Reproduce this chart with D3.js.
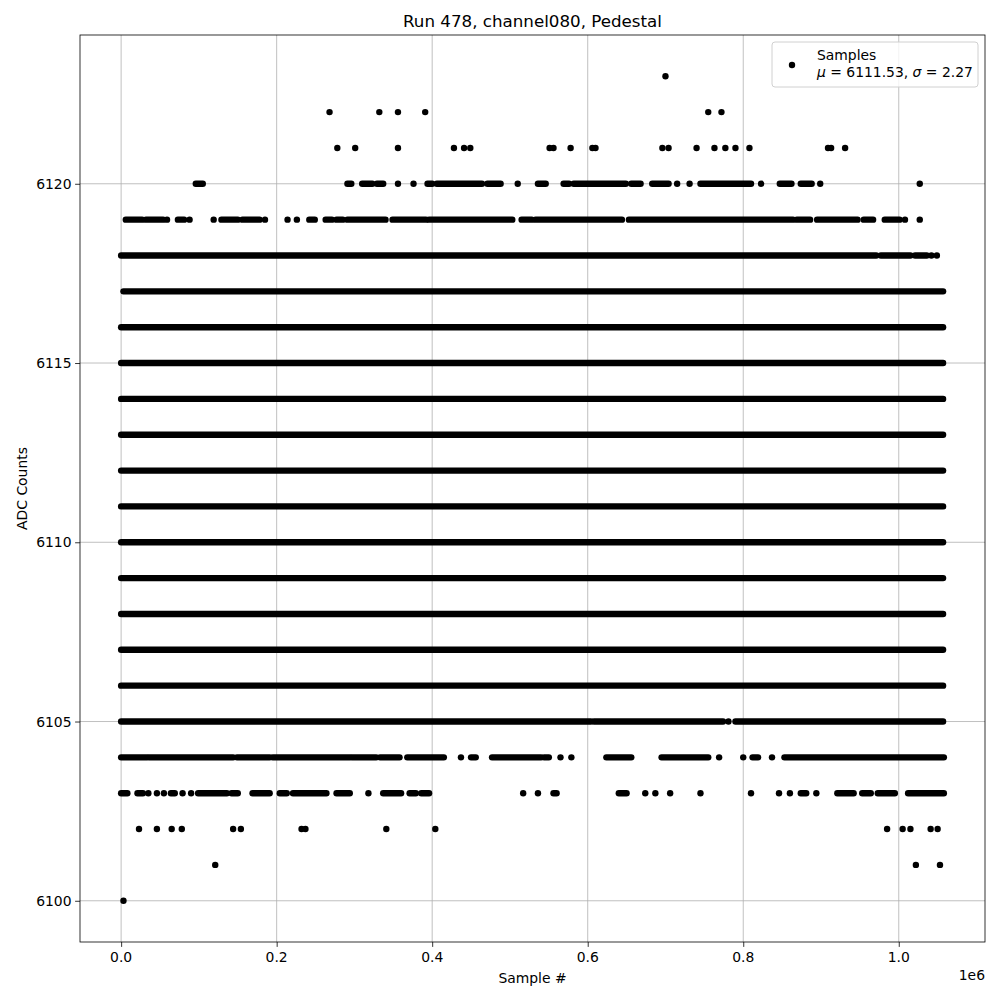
<!DOCTYPE html>
<html>
<head>
<meta charset="utf-8">
<title>Run 478 Pedestal</title>
<script src="https://d3js.org/d3.v7.min.js"></script>
<style>
  body { margin: 0; background: #fff; }
  svg { font-family: "DejaVu Sans", sans-serif; display: block; }
  .grid line { stroke: #b0b0b0; stroke-width: 0.8; }
  .axis path, .axis line { stroke: #000; stroke-width: 0.8; }
  text { font-size: 13.9px; fill: #000; }
</style>
</head>
<body>
<svg id="chart" width="1000" height="1000"></svg>
<script>
// ADC levels seen (counts) and where along the run (in thousands of samples) they occur.
// Dense stretches are kept as [adc, fromK, toK], isolated samples as [adc, atK].
const sampleRuns = [
  [6117, 3, 1057], [6116, 0, 1057], [6115, 0, 1057], [6114, 0, 1057],
  [6113, 0, 1057], [6112, 0, 1057], [6111, 0, 1057], [6110, 0, 1057],
  [6109, 0, 1057], [6108, 0, 1057], [6107, 0, 1057], [6106, 0, 1057],
  [6105, 0, 604], [6105, 608, 774], [6105, 790, 1057],
  [6118, 0, 971], [6118, 977, 1015], [6118, 1021, 1036],
  [6119, 6, 27], [6119, 32, 54], [6119, 73, 81], [6119, 129, 150], [6119, 156, 178],
  [6119, 242, 249], [6119, 263, 271], [6119, 277, 285], [6119, 291, 340],
  [6119, 349, 392], [6119, 396, 503], [6119, 515, 528], [6119, 533, 644],
  [6119, 653, 864], [6119, 869, 886], [6119, 895, 947], [6119, 955, 967], [6119, 982, 1001],
  [6120, 96, 105], [6120, 291, 296], [6120, 310, 323], [6120, 329, 337],
  [6120, 394, 400], [6120, 406, 464], [6120, 471, 488], [6120, 536, 546],
  [6120, 569, 576], [6120, 582, 649], [6120, 656, 668], [6120, 683, 704],
  [6120, 745, 810], [6120, 847, 862], [6120, 874, 888],
  [6104, 0, 33], [6104, 36, 144], [6104, 149, 191], [6104, 195, 294],
  [6104, 297, 328], [6104, 333, 358], [6104, 368, 415], [6104, 450, 456],
  [6104, 477, 540], [6104, 544, 550], [6104, 624, 656], [6104, 695, 755],
  [6104, 812, 819], [6104, 853, 1058],
  [6103, 0, 8], [6103, 21, 28], [6103, 64, 69], [6103, 99, 136], [6103, 142, 150],
  [6103, 169, 191], [6103, 204, 213], [6103, 221, 264], [6103, 277, 294],
  [6103, 337, 360], [6103, 371, 379], [6103, 386, 396], [6103, 556, 560],
  [6103, 640, 650], [6103, 874, 881], [6103, 921, 942], [6103, 953, 964],
  [6103, 973, 995], [6103, 1012, 1058]
];
const samplePoints = [
  [6123, 700],
  [6122, 268], [6122, 332], [6122, 356], [6122, 391], [6122, 755], [6122, 772],
  [6121, 278], [6121, 301], [6121, 356], [6121, 428], [6121, 441], [6121, 449],
  [6121, 551], [6121, 556], [6121, 578], [6121, 606], [6121, 610], [6121, 696],
  [6121, 704], [6121, 740], [6121, 763], [6121, 777], [6121, 790], [6121, 808],
  [6121, 909], [6121, 913], [6121, 931],
  [6120, 356], [6120, 376], [6120, 510], [6120, 715], [6120, 731], [6120, 823],
  [6120, 899], [6120, 1027],
  [6119, 59], [6119, 88], [6119, 119], [6119, 185], [6119, 214], [6119, 226],
  [6119, 1008], [6119, 1027],
  [6118, 1042], [6118, 1049],
  [6105, 781],
  [6104, 437], [6104, 565], [6104, 579], [6104, 769], [6104, 800], [6104, 837],
  [6103, 35], [6103, 46], [6103, 55], [6103, 79], [6103, 90], [6103, 318],
  [6103, 517], [6103, 536], [6103, 674], [6103, 687], [6103, 706], [6103, 745],
  [6103, 810], [6103, 846], [6103, 860], [6103, 894],
  [6102, 23], [6102, 46], [6102, 65], [6102, 78], [6102, 144], [6102, 154],
  [6102, 232], [6102, 237], [6102, 341], [6102, 404], [6102, 985], [6102, 1005],
  [6102, 1015], [6102, 1041], [6102, 1050],
  [6101, 121], [6101, 1022], [6101, 1053],
  [6100, 3]
];
const xTicks = [0, 0.2e6, 0.4e6, 0.6e6, 0.8e6, 1.0e6];
const yTicks = [6100, 6105, 6110, 6115, 6120];
const meanAdc = 6111.53, sigmaAdc = 2.27;

const svg = d3.select('#chart');
const margin = { top: 35, right: 15, bottom: 58, left: 80 };
const W = 1000, H = 1000;

// matplotlib style 5% margins around the data extent
const allX = sampleRuns.flatMap(r => [r[1], r[2]]).concat(samplePoints.map(p => p[1])).map(k => k * 1000);
const allY = sampleRuns.map(r => r[0]).concat(samplePoints.map(p => p[0]));
const [x0, x1] = d3.extent(allX), [y0, y1] = d3.extent(allY);
const padX = (x1 - x0) * 0.05, padY = (y1 - y0) * 0.05;

// scales work in page pixels directly, so every text can sit at absolute coordinates
const xScale = d3.scaleLinear().domain([x0 - padX, x1 + padX]).range([margin.left, W - margin.right]);
const yScale = d3.scaleLinear().domain([y0 - padY, y1 + padY]).range([H - margin.bottom, margin.top]);
const plotBottom = H - margin.bottom;

// grid
svg.append('g').attr('class', 'grid')
  .selectAll('line').data(xTicks).enter().append('line')
  .attr('x1', d => xScale(d)).attr('x2', d => xScale(d))
  .attr('y1', margin.top).attr('y2', plotBottom);
svg.append('g').attr('class', 'grid')
  .selectAll('line').data(yTicks).enter().append('line')
  .attr('y1', d => yScale(d)).attr('y2', d => yScale(d))
  .attr('x1', margin.left).attr('x2', W - margin.right);

const dotR = 3.2;
// dense stretches: a stroke as thick as one marker, round ends
svg.append('g').selectAll('line').data(sampleRuns).enter().append('line')
  .attr('x1', d => xScale(d[1] * 1000)).attr('x2', d => xScale(d[2] * 1000))
  .attr('y1', d => yScale(d[0])).attr('y2', d => yScale(d[0]))
  .attr('stroke', '#000').attr('stroke-width', dotR * 2).attr('stroke-linecap', 'round');
svg.append('g').selectAll('circle').data(samplePoints).enter().append('circle')
  .attr('cx', d => xScale(d[1] * 1000)).attr('cy', d => yScale(d[0]))
  .attr('r', dotR).attr('fill', '#000');

// axis ticks (labels written separately)
const xAxis = d3.axisBottom(xScale).tickValues(xTicks).tickSize(4.9).tickFormat('');
svg.append('g').attr('class', 'axis').attr('transform', `translate(0,${plotBottom})`).call(xAxis)
  .call(a => a.select('.domain').remove());
const yAxis = d3.axisLeft(yScale).tickValues(yTicks).tickSize(4.9).tickFormat('');
svg.append('g').attr('class', 'axis').attr('transform', `translate(${margin.left},0)`).call(yAxis)
  .call(a => a.select('.domain').remove());

svg.selectAll('text.xt').data(xTicks).enter().append('text')
  .attr('x', d => xScale(d)).attr('y', plotBottom + 20)
  .attr('text-anchor', 'middle').text(d => (d / 1e6).toFixed(1));
svg.selectAll('text.yt').data(yTicks).enter().append('text')
  .attr('x', margin.left - 8.5).attr('y', d => yScale(d) + 5)
  .attr('text-anchor', 'end').text(d3.format('d'));

svg.append('rect').attr('x', margin.left).attr('y', margin.top)
  .attr('width', W - margin.left - margin.right).attr('height', plotBottom - margin.top)
  .attr('fill', 'none').attr('stroke', '#000').attr('stroke-width', 0.8);

// offset label
svg.append('text').attr('x', W - margin.right).attr('y', plotBottom + 38)
  .attr('text-anchor', 'end').text('1e6');

// labels
svg.append('text').attr('x', (margin.left + W - margin.right) / 2).attr('y', plotBottom + 41)
  .attr('text-anchor', 'middle').text('Sample #');
svg.append('text').attr('transform', `translate(27,${(margin.top + plotBottom) / 2}) rotate(-90)`)
  .attr('text-anchor', 'middle').text('ADC Counts');
svg.append('text').attr('x', (margin.left + W - margin.right) / 2).attr('y', margin.top - 8)
  .attr('text-anchor', 'middle').style('font-size', '16.7px').text('Run 478, channel080, Pedestal');

// legend
const lx = W - margin.right - 213, ly = margin.top + 7;
svg.append('rect').attr('x', lx).attr('y', ly).attr('width', 206).attr('height', 45).attr('rx', 3)
  .attr('fill', 'rgba(255,255,255,0.8)').attr('stroke', '#d0d0d0').attr('stroke-width', 1);
svg.append('circle').attr('cx', lx + 20).attr('cy', ly + 23).attr('r', dotR).attr('fill', '#000');
svg.append('text').attr('x', lx + 45).attr('y', ly + 18).text('Samples');
const t2 = svg.append('text').attr('x', lx + 45).attr('y', ly + 35);
t2.append('tspan').style('font-style', 'italic').text('μ');
t2.append('tspan').text(` = ${meanAdc.toFixed(2)}, `);
t2.append('tspan').style('font-style', 'italic').text('σ');
t2.append('tspan').text(` = ${sigmaAdc.toFixed(2)}`);
</script>
</body>
</html>
